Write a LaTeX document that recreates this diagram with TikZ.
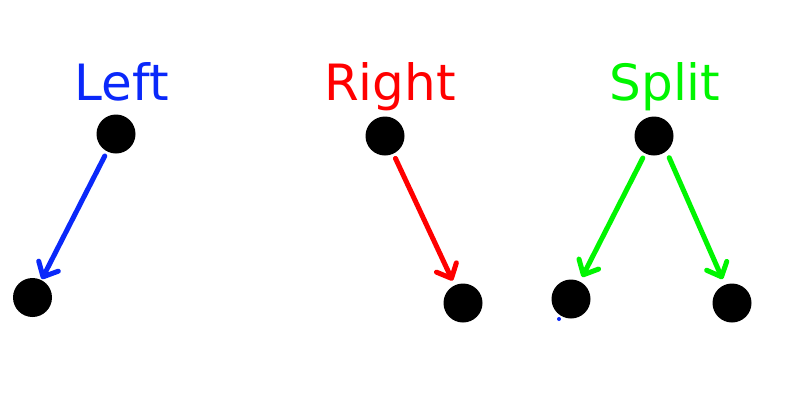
\documentclass[tikz,border=0pt]{standalone}
\usepackage{fontspec}
\setmainfont{DejaVu Sans}
\usetikzlibrary{arrows.meta}
\definecolor{cblue}{RGB}{10,40,250}
\definecolor{cred}{RGB}{255,0,0}
\definecolor{cgreen}{RGB}{0,245,0}
\begin{document}
\begin{tikzpicture}[x=1pt,y=-1pt,
  dot/.style={circle,fill=black,inner sep=0pt,minimum size=39pt},
  title/.style={anchor=base,inner sep=0pt,font=\fontsize{50}{50}\selectfont},
  arr/.style={line width=5pt,line cap=round,-{Straight Barb[length=12pt,width=22pt,round]}}]
\useasboundingbox (0,0) rectangle (800,400);
\fill[white] (0,0) rectangle (800,400);
% titles
\node[title,text=cblue] (tl) at (122,100) {Left};
\node[title,text=cred] (tr) at (390,100) {Right};
\node[title,text=cgreen] (ts) at (665,100) {Split};
% dots
\node[dot] (l1) at (116,134) {};
\node[dot] (l2) at (32.5,297.5) {};
\node[dot] (r1) at (385,136) {};
\node[dot] (r2) at (463,303) {};
\node[dot] (s1) at (654,136) {};
\node[dot] (s2) at (571,299) {};
\node[dot] (s3) at (732,303) {};
\fill[cblue] (559,319) circle (2);
% arrows
\draw[arr,cblue,shorten <=5pt,shorten >=1pt] (l1) -- (l2);
\draw[arr,cred,shorten <=5pt,shorten >=5pt] (r1) -- (r2);
\draw[arr,cgreen,shorten <=5pt,shorten >=5pt] (s1) -- (s2);
\draw[arr,cgreen,shorten <=7pt,shorten >=6pt] (s1.-51) -- (s3.111);
\end{tikzpicture}
\end{document}
